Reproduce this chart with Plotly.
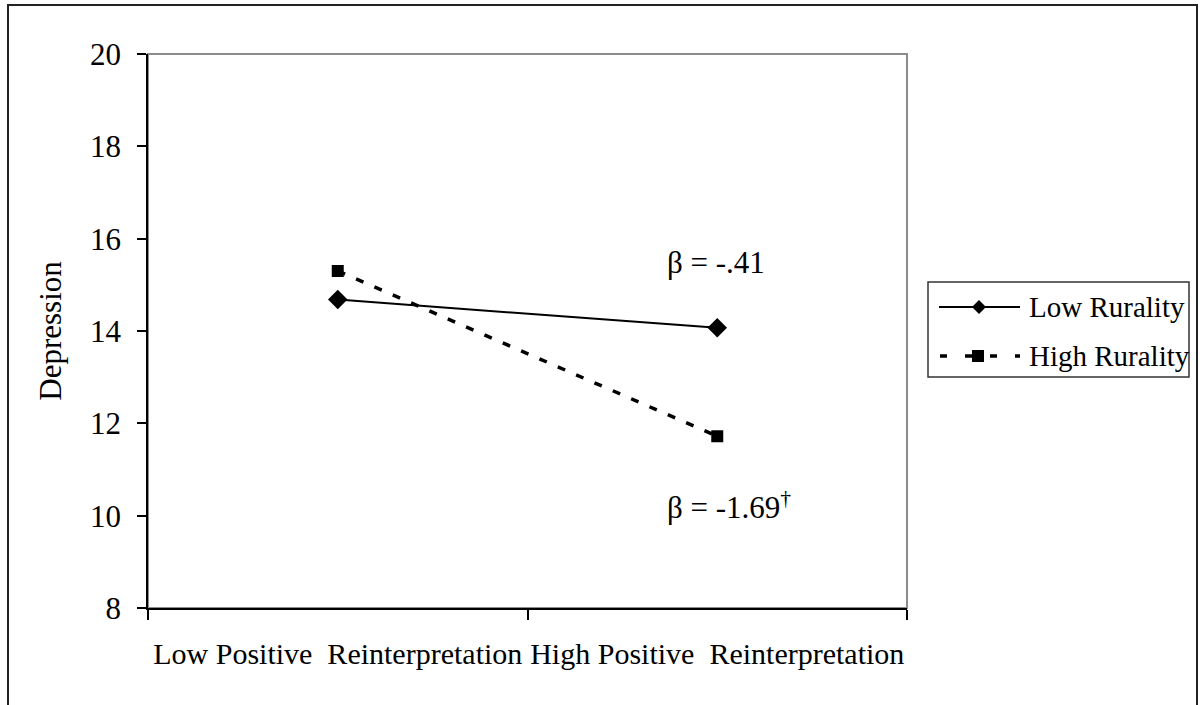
import plotly.graph_objects as go

# Simple-slopes data: depression by positive reinterpretation level
categories = ["Low Positive\u00a0 Reinterpretation", "High Positive\u00a0 Reinterpretation"]
low_rurality = [14.68, 14.07]
high_rurality = [15.30, 11.72]
series_names = ["Low Rurality", "High Rurality"]
y_ticks = [8, 10, 12, 14, 16, 18, 20]
beta_labels = ["\u03b2 = -.41", "\u03b2 = -1.69<sup>\u2020</sup>"]
beta_y = [15.49, 10.23]

FONT = "Liberation Serif, Times New Roman, serif"

# plot-area geometry in pixels (used to place the frame and legend outside the axes)
L, R, T, B = 148, 907, 54, 608
W, H = R - L, B - T


def px_x(p):
    return (p - L) / W


def px_y(p):
    return (B - p) / H


fig = go.Figure()
fig.add_trace(go.Scatter(
    x=categories, y=low_rurality, name=series_names[0], mode="lines+markers",
    line=dict(color="black", width=2),
    marker=dict(symbol="diamond", size=15, color="black"),
    showlegend=False,
))
fig.add_trace(go.Scatter(
    x=categories, y=high_rurality, name=series_names[1], mode="lines+markers",
    line=dict(color="black", width=3.5, dash="8px,12px"),
    marker=dict(symbol="square", size=12, color="black"),
    showlegend=False,
))

shapes = []
# outer chart frame
shapes.append(dict(type="rect", xref="paper", yref="paper",
                   x0=px_x(8), x1=px_x(1197), y0=px_y(5), y1=px_y(720),
                   line=dict(color="#222", width=2), layer="below"))
# plot-area border (grey on top/right)
shapes.append(dict(type="rect", xref="paper", yref="paper",
                   x0=0, x1=1, y0=0, y1=1,
                   line=dict(color="#8c8c8c", width=2), layer="below"))

# legend box
shapes.append(dict(type="rect", xref="paper", yref="paper",
                   x0=px_x(928), x1=px_x(1189), y0=px_y(377), y1=px_y(282),
                   line=dict(color="#333", width=1.5), fillcolor="white"))
# legend sample: solid line with diamond
ly1, ly2 = 307, 356
shapes.append(dict(type="line", xref="paper", yref="paper",
                   x0=px_x(939), x1=px_x(1020), y0=px_y(ly1), y1=px_y(ly1),
                   line=dict(color="black", width=2)))
shapes.append(dict(type="path", xref="paper", yref="paper",
                   xsizemode="pixel", ysizemode="pixel",
                   xanchor=px_x(979), yanchor=px_y(ly1),
                   path="M -7 0 L 0 7 L 7 0 L 0 -7 Z",
                   fillcolor="black", line=dict(color="black", width=0)))
# legend sample: dashed line with square
shapes.append(dict(type="line", xref="paper", yref="paper",
                   x0=px_x(940), x1=px_x(1020), y0=px_y(ly2), y1=px_y(ly2),
                   line=dict(color="black", width=3.5, dash="7px,18px")))
shapes.append(dict(type="rect", xref="paper", yref="paper",
                   xsizemode="pixel", ysizemode="pixel",
                   xanchor=px_x(978), yanchor=px_y(ly2),
                   x0=-6, x1=6, y0=-6, y1=6,
                   fillcolor="black", line=dict(color="black", width=0)))

annotations = [
    dict(text=series_names[0], xref="paper", yref="paper",
         x=px_x(1027), y=px_y(ly1), xanchor="left", yanchor="middle",
         showarrow=False, font=dict(family=FONT, size=29, color="black")),
    dict(text=series_names[1], xref="paper", yref="paper",
         x=px_x(1027), y=px_y(ly2), xanchor="left", yanchor="middle",
         showarrow=False, font=dict(family=FONT, size=29, color="black")),
]
for txt, yv in zip(beta_labels, beta_y):
    annotations.append(dict(text=txt, xref="paper", yref="y",
                            x=px_x(665), y=yv, xanchor="left", yanchor="middle",
                            showarrow=False,
                            font=dict(family=FONT, size=31, color="black")))

fig.update_layout(
    width=1200, height=705,
    margin=dict(l=L, r=1200 - R, t=T, b=705 - B),
    paper_bgcolor="white", plot_bgcolor="white",
    font=dict(family=FONT, size=30, color="black"),
    shapes=shapes, annotations=annotations,
    showlegend=False,
)
fig.update_xaxes(
    type="category", range=[-0.5, 1.5], tickson="boundaries",
    showline=True, linecolor="black", linewidth=1.5,
    ticks="outside", ticklen=10, tickwidth=1.5, tickcolor="black",
    showgrid=False, zeroline=False, tickangle=0, automargin=False,
    tickfont=dict(family=FONT, size=30, color="black"),
    ticklabelstandoff=18,
)
fig.update_yaxes(
    range=[8, 20], tickvals=y_ticks,
    showline=True, linecolor="black", linewidth=1.5,
    ticks="outside", ticklen=9, tickwidth=1.5, tickcolor="black",
    showgrid=False, zeroline=False, automargin=False,
    tickfont=dict(family=FONT, size=31, color="black"),
    ticklabelstandoff=10,
    title=dict(text="Depression", font=dict(family=FONT, size=31, color="black"),
               standoff=19),
)

fig.write_html("out.html")
